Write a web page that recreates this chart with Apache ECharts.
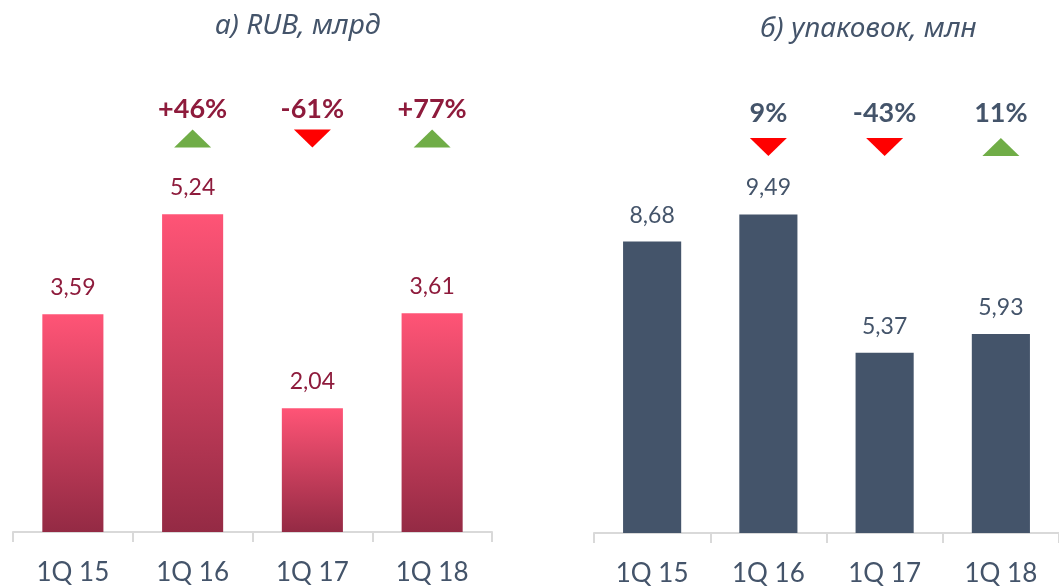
<!DOCTYPE html>
<html>
<head>
<meta charset="utf-8">
<script src="https://cdn.jsdelivr.net/npm/echarts@6/dist/echarts.min.js"></script>
<style>
  html, body { margin: 0; padding: 0; background: #fff; }
  #chart { width: 1059px; height: 587px; }
</style>
</head>
<body>
<div id="chart"></div>
<script>
const categories = ['1Q 15', '1Q 16', '1Q 17', '1Q 18']

// a) RUB, bn
const rubValues = [3.59, 5.24, 2.04, 3.61]
const rubChange = [null, '+46%', '-61%', '+77%']
const rubDir = [null, 'up', 'down', 'up']

// b) packages, mln
const packValues = [8.68, 9.49, 5.37, 5.93]
const packChange = [null, '9%', '-43%', '11%']
const packDir = [null, 'down', 'down', 'up']

const slate = '#44546A'
const crimson = '#8E1B3C'
const font = 'Lato, "Noto Sans", sans-serif'

const fmt = (v) => v.toFixed(2).replace('.', ',')

function xAxisFor(gridIndex) {
  return {
    type: 'category',
    gridIndex,
    data: categories,
    axisLine: { lineStyle: { color: '#D9D9D9', width: 2 } },
    axisTick: { show: true, length: 10, lineStyle: { color: '#D9D9D9', width: 2 } },
    axisLabel: { color: slate, fontSize: 26, fontFamily: font, margin: 28 },
  }
}

function yAxisFor(gridIndex, max) {
  return { type: 'value', gridIndex, min: 0, max, show: false, splitLine: { show: false } }
}

// triangle markers + change labels, sitting at a fixed level above the bars
function changeSeries(idx, changes, dirs, triLevel, textLevel, textColor) {
  return [
    {
      type: 'scatter',
      xAxisIndex: idx,
      yAxisIndex: idx,
      symbol: 'triangle',
      symbolSize: [37, 18],
      silent: true,
      itemStyle: { opacity: 1 },
      data: changes.map((c, i) =>
        c == null
          ? null
          : {
              value: [i, triLevel],
              symbolRotate: dirs[i] === 'down' ? 180 : 0,
              itemStyle: { color: dirs[i] === 'down' ? '#FF0000' : '#70AD47', opacity: 1 },
            },
      ),
    },
    {
      type: 'scatter',
      xAxisIndex: idx,
      yAxisIndex: idx,
      symbolSize: 0,
      silent: true,
      itemStyle: { opacity: 1 },
      label: {
        show: true,
        position: 'inside',
        color: textColor,
        opacity: 1,
        fontSize: 27,
        fontWeight: 'bold',
        fontFamily: font,
        formatter: (p) => changes[p.dataIndex],
      },
      data: changes.map((c, i) => (c == null ? null : [i, textLevel])),
    },
  ]
}

const chart = echarts.init(document.getElementById('chart'), null, { renderer: 'canvas' })

chart.setOption({
  animation: false,
  graphic: [
    {
      type: 'text',
      left: 215,
      top: 12,
      style: { text: 'а) RUB, млрд', fill: slate, font: 'italic 28px "Noto Sans", sans-serif' },
    },
    {
      type: 'text',
      left: 760,
      top: 15,
      style: { text: 'б) упаковок, млн', fill: slate, font: 'italic 28px "Noto Sans", sans-serif' },
    },
  ],
  grid: [
    { left: 13, width: 479, top: 47, bottom: 55 },
    { left: 594, width: 468, top: 63, bottom: 54 },
  ],
  xAxis: [xAxisFor(0), xAxisFor(1)],
  yAxis: [yAxisFor(0, 8), yAxisFor(1, 14)],
  series: [
    {
      type: 'bar',
      xAxisIndex: 0,
      yAxisIndex: 0,
      barWidth: '51%',
      data: rubValues,
      itemStyle: {
        color: new echarts.graphic.LinearGradient(0, 0, 0, 1, [
          { offset: 0, color: '#FF5476' },
          { offset: 1, color: '#942A44' },
        ]),
      },
      label: {
        show: true,
        position: 'top',
        distance: 15,
        color: crimson,
        fontSize: 23,
        fontFamily: font,
        formatter: (p) => fmt(p.value),
      },
    },
    {
      type: 'bar',
      xAxisIndex: 1,
      yAxisIndex: 1,
      barWidth: '50%',
      data: packValues,
      itemStyle: { color: slate },
      label: {
        show: true,
        position: 'top',
        distance: 15,
        color: slate,
        fontSize: 23,
        fontFamily: font,
        formatter: (p) => fmt(p.value),
      },
    },
    ...changeSeries(0, rubChange, rubDir, 6.49, 6.98, crimson),
    ...changeSeries(1, packChange, packDir, 11.5, 12.5, slate),
  ],
})
</script>
</body>
</html>
